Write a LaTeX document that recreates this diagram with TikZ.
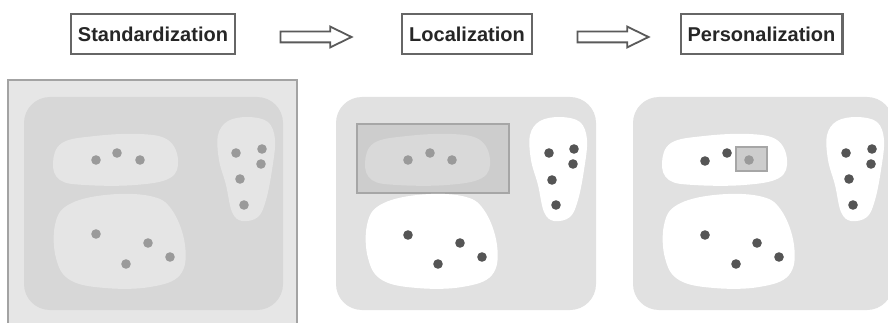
\documentclass[tikz,border=0pt]{standalone}
\usepackage{fontspec}
\setmainfont{Liberation Sans}
\newfontfamily\hdrfont{Liberation Sans}
\usetikzlibrary{shapes.arrows}

\definecolor{frameedge}{HTML}{A3A3A3}
\definecolor{framefill}{HTML}{E6E6E6}
\definecolor{marketA}{HTML}{D7D7D7}
\definecolor{marketB}{HTML}{E1E1E1}
\definecolor{segA}{HTML}{E5E5E5}
\definecolor{dotlight}{HTML}{9A9A9A}
\definecolor{dotdark}{HTML}{555555}
\definecolor{zoneedge}{HTML}{A6A6A6}
\definecolor{zonefill}{HTML}{CDCDCD}
\definecolor{zoneseg}{HTML}{D9D9D9}
\definecolor{boxedge}{HTML}{666666}
\definecolor{arrowedge}{HTML}{5A5A5A}

\tikzset{
  stage/.style={draw=boxedge, line width=2.2pt, fill=white, minimum height=40pt,
    inner xsep=7pt, font=\hdrfont\bfseries\fontsize{20pt}{24pt}\selectfont, text=black!85},
  flow/.style={single arrow, draw=arrowedge, line width=1.8pt, fill=white,
    minimum height=71pt, inner xsep=0pt, inner ysep=4.5pt,
    single arrow head extend=5pt, single arrow tip angle=52, single arrow head indent=0pt},
  market/.style={rounded corners=26pt},
  % customer segments: an oval, a tall teardrop and a large round blob
  topseg/.pic={\path[pic actions] plot[smooth cycle, tension=0.65] coordinates
    {(53,163) (62,143) (95,136) (140,134) (168,140) (178,160) (170,178) (135,185) (85,185) (60,180)};},
  sideseg/.pic={\path[pic actions] plot[smooth cycle, tension=0.6] coordinates
    {(218,135) (228,121) (248,117) (268,122) (275,140) (272,170) (266,200) (258,217) (242,221) (232,212) (226,185) (219,160)};},
  lowseg/.pic={\path[pic actions] plot[smooth cycle, tension=0.65] coordinates
    {(55,225) (68,205) (105,195) (150,196) (172,210) (185,245) (180,275) (150,287) (105,288) (70,280) (56,258)};},
}

\begin{document}
\begin{tikzpicture}[x=1pt, y=-1pt]
\clip (0,0) rectangle (888,323);
\fill[white] (0,0) rectangle (888,323);

% stage labels and the arrows between them
\node[stage] (std) at (153,34) {Standardization};
\node[stage] (loc) at (467,34) {Localization};
\node[stage] (pers) at (761.5,34) {Personalization};
\node[flow] (arr1) at (310.5,37) {};
\node[flow] (arr2) at (607.5,37) {};

% ---- standardization: one framed market, all segments alike ----
\draw[draw=frameedge, fill=framefill, line width=2pt] (7.5,80) rectangle (297,340);
\fill[marketA, market] (24,97) rectangle (283,310);
\pic[fill=segA] {topseg};
\pic[fill=segA] {sideseg};
\pic[fill=segA] {lowseg};
\foreach \p in {(96,160),(117,153),(140,160),
                (236,153),(262,149),(261,164),(240,179),(244,205),
                (96,234),(148,243),(170,257),(126,264)}
  \fill[dotlight] \p circle (4.8pt);

% ---- localization: one segment served locally ----
\begin{scope}[xshift=312pt]
\fill[marketB, market] (24,97) rectangle (284,310);
\draw[draw=zoneedge, fill=zonefill, line width=2pt] (45,124) rectangle (197,193);
\pic[fill=zoneseg] {topseg};
\pic[fill=white] {sideseg};
\pic[fill=white] {lowseg};
\foreach \p in {(96,160),(118,153),(140,160)}
  \fill[dotlight] \p circle (4.8pt);
\foreach \p in {(237,153),(262,149),(261,164),(240,180),(244,205),
                (96,235),(148,243),(170,257),(126,264)}
  \fill[dotdark] \p circle (4.8pt);
\end{scope}

% ---- personalization: one customer singled out ----
\begin{scope}[xshift=609pt]
\fill[marketB, market] (24,97) rectangle (284,310);
\pic[fill=white] {topseg};
\pic[fill=white] {sideseg};
\pic[fill=white] {lowseg};
\draw[draw=zoneedge, fill=zonefill, line width=2pt] (127,147) rectangle (158,171);
\fill[dotlight] (140,160) circle (4.8pt);
\foreach \p in {(96,161),(118,153),
                (237,153),(263,149),(262,164),(240,179),(244,205),
                (96,235),(148,243),(170,257),(127,264)}
  \fill[dotdark] \p circle (4.8pt);
\end{scope}
\end{tikzpicture}
\end{document}
